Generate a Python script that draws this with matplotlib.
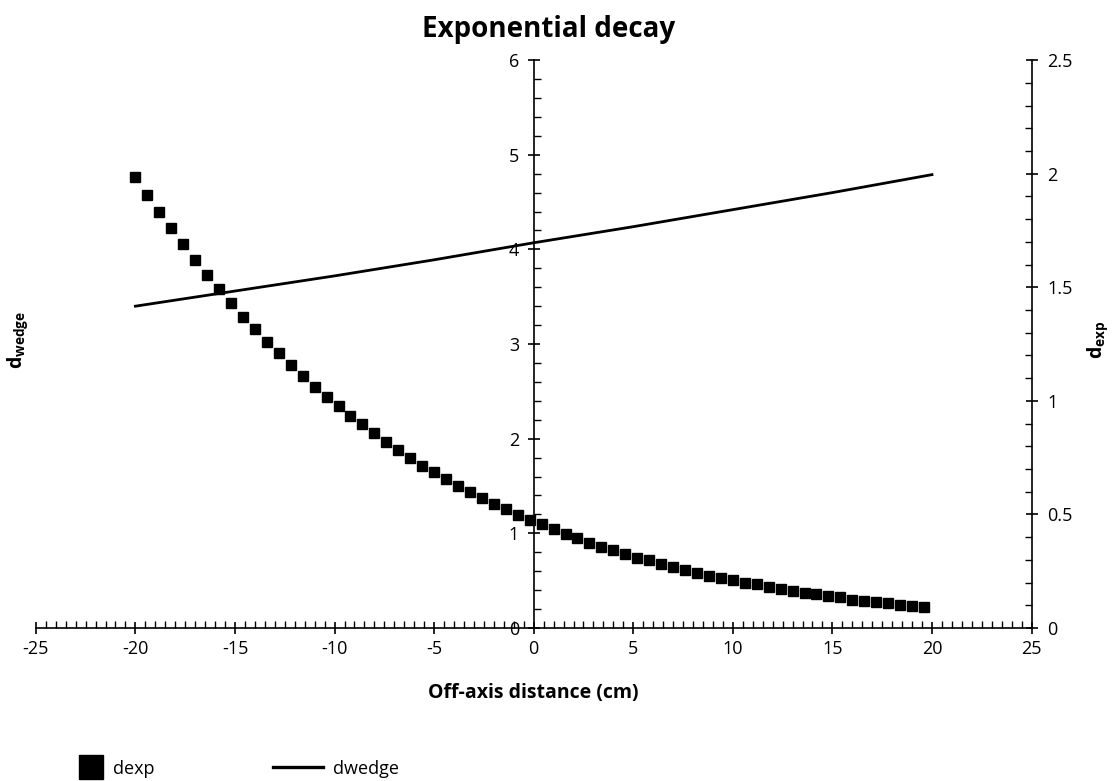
import matplotlib
matplotlib.use("Agg")
import matplotlib.pyplot as plt
from matplotlib.lines import Line2D
from matplotlib.ticker import MultipleLocator

plt.rcParams.update({
    "font.family": "Open Sans",
    "mathtext.fontset": "custom",
    "mathtext.rm": "Open Sans",
    "mathtext.bf": "Open Sans:bold",
    "axes.unicode_minus": False,
    "font.size": 12,
})

# off-axis positions of the dexp samples (cm)
x_exp = [-20.0, -19.4, -18.8, -18.2, -17.6, -17.0, -16.4, -15.8, -15.2, -14.6,
         -14.0, -13.4, -12.8, -12.2, -11.6, -11.0, -10.4, -9.8, -9.2, -8.6,
         -8.0, -7.4, -6.8, -6.2, -5.6, -5.0, -4.4, -3.8, -3.2, -2.6,
         -2.0, -1.4, -0.8, -0.2, 0.4, 1.0, 1.6, 2.2, 2.8, 3.4,
         4.0, 4.6, 5.2, 5.8, 6.4, 7.0, 7.6, 8.2, 8.8, 9.4,
         10.0, 10.6, 11.2, 11.8, 12.4, 13.0, 13.6, 14.2, 14.8, 15.4,
         16.0, 16.6, 17.2, 17.8, 18.4, 19.0, 19.6]
dexp = [1.984, 1.906, 1.831, 1.759, 1.689, 1.620, 1.554, 1.492, 1.429, 1.370,
        1.315, 1.260, 1.209, 1.159, 1.109, 1.059, 1.018, 0.975, 0.934, 0.897,
        0.857, 0.820, 0.783, 0.747, 0.714, 0.685, 0.654, 0.625, 0.597, 0.571,
        0.544, 0.522, 0.497, 0.475, 0.456, 0.434, 0.412, 0.395, 0.376, 0.358,
        0.343, 0.327, 0.309, 0.298, 0.282, 0.267, 0.255, 0.242, 0.230, 0.219,
        0.210, 0.199, 0.192, 0.180, 0.170, 0.163, 0.155, 0.148, 0.141, 0.135,
        0.125, 0.119, 0.114, 0.109, 0.101, 0.096, 0.091]

x_wedge = [-20, -15, -10, -5, 0, 5, 10, 15, 20]
dwedge = [3.40, 3.56, 3.72, 3.89, 4.07, 4.24, 4.42, 4.60, 4.79]

fig = plt.figure(figsize=(11.2, 7.81), dpi=100)
ax = fig.add_axes([0.032, 0.196, 0.889, 0.727])
ax2 = ax.twinx()

ax.plot(x_wedge, dwedge, color="black", lw=2.0, zorder=3)
ax2.plot(x_exp, dexp, ls="none", marker="s", ms=7.2, color="black", zorder=3)

ax.set_xlim(-25, 25)
ax.set_ylim(0, 6)
ax2.set_ylim(0, 2.5)

# left axis runs through x = 0
ax.spines["left"].set_position(("data", 0))
ax.spines["top"].set_visible(False)
ax.spines["right"].set_visible(False)
for s in ["left", "top", "bottom"]:
    ax2.spines[s].set_visible(False)
for a in (ax, ax2):
    for sp in a.spines.values():
        sp.set_linewidth(1.2)

ax.xaxis.set_major_locator(MultipleLocator(5))
ax.xaxis.set_minor_locator(MultipleLocator(0.5))
ax.yaxis.set_major_locator(MultipleLocator(1))
ax.yaxis.set_minor_locator(MultipleLocator(0.2))
ax2.yaxis.set_major_locator(MultipleLocator(0.5))
ax2.yaxis.set_minor_locator(MultipleLocator(0.1))
ax2.yaxis.set_major_formatter(lambda v, p: f"{v:g}")

ax.tick_params(axis="x", which="major", direction="inout", length=9, width=1.2, labelsize=13, pad=4)
ax.tick_params(axis="x", which="minor", direction="in", length=5, width=1.0)
ax.tick_params(axis="y", which="major", direction="inout", length=9, width=1.2, labelsize=13, pad=6)
ax.tick_params(axis="y", which="minor", direction="in", length=5, width=1.0)
ax2.tick_params(axis="y", which="major", direction="inout", length=9, width=1.2, labelsize=13, pad=7)
ax2.tick_params(axis="y", which="minor", direction="in", length=5, width=1.0)

ax.set_xlabel("Off-axis distance (cm)", fontsize=14, fontweight="bold", labelpad=18)
fig.text(0.49, 0.962, "Exponential decay", ha="center", va="center",
         fontsize=20, fontweight="bold")
fig.text(0.016, 0.565, r"$\mathbf{d_{wedge}}$", rotation=90, ha="center", va="center", fontsize=14)
fig.text(0.98, 0.565, r"$\mathbf{d_{exp}}$", rotation=90, ha="center", va="center", fontsize=14)

sq = Line2D([], [], ls="none", marker="s", ms=17, color="black")
ln = Line2D([], [], color="black", lw=2.4)
leg1 = fig.legend([sq], ["dexp"], loc="center left", bbox_to_anchor=(0.0696, 0.016),
                  frameon=False, fontsize=13, handlelength=1.4, handletextpad=0.55,
                  borderpad=0, borderaxespad=0)
fig.legend([ln], ["dwedge"], loc="center left", bbox_to_anchor=(0.2437, 0.016),
           frameon=False, fontsize=13, handlelength=2.8, handletextpad=0.5,
           borderpad=0, borderaxespad=0)

fig.savefig("out.png", dpi=100)
